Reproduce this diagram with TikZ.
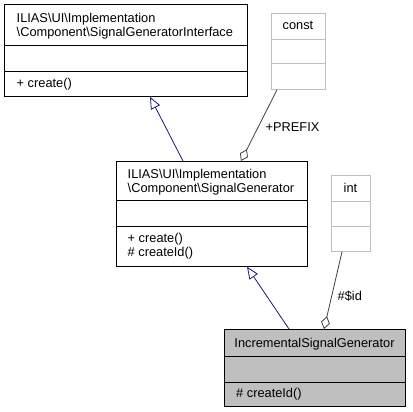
\documentclass[tikz,border=0pt]{standalone}
\usepackage{fontspec}
\setmainfont{Liberation Sans}
\usetikzlibrary{arrows.meta,calc}
\definecolor{inhcol}{HTML}{191970}
\definecolor{aggcol}{HTML}{404040}
\definecolor{lightbox}{HTML}{BFBFBF}
\definecolor{curfill}{HTML}{BFBFBF}
\begin{document}
\begin{tikzpicture}[x=1pt,y=-1pt,
  classbox/.style={draw=black,line width=0.8pt,anchor=north west,inner sep=0pt,rectangle},
  typebox/.style={draw=lightbox,line width=0.8pt,anchor=north west,inner sep=0pt,rectangle},
  txt/.style={anchor=base west,inner sep=0pt,font=\fontsize{12.8}{14}\selectfont},
  ctxt/.style={anchor=base,inner sep=0pt,font=\fontsize{12.8}{14}\selectfont},
  inh/.style={draw=inhcol,line width=0.8pt,-{Triangle[open,length=12pt,width=10pt]}},
  agg/.style={draw=aggcol,line width=0.8pt,-{Diamond[open,length=13pt,width=9pt]}},
  divider/.style={line width=0.8pt},
  lightdiv/.style={draw=lightbox,line width=0.8pt}]
\useasboundingbox (0,0) rectangle (412,412);
\fill[white] (0,0) rectangle (412,412);

% SignalGeneratorInterface
\node[classbox,minimum width=243pt,minimum height=92pt] (iface) at (4,4) {};
\draw[divider] ($(iface.north west)+(0,41)$) -- ($(iface.north east)+(0,41)$);
\draw[divider] ($(iface.north west)+(0,67)$) -- ($(iface.north east)+(0,67)$);
\node[txt] (iface-h1) at (16.5,22.5) {ILIAS\textbackslash UI\textbackslash Implementation};
\node[txt] (iface-h2) at (16.5,36.5) {\textbackslash Component\textbackslash SignalGeneratorInterface};
\node[txt] (iface-m1) at (16.5,87) {+ create()};

% const
\node[typebox,minimum width=54pt,minimum height=76pt] (const) at (271,13) {};
\draw[lightdiv] ($(const.north west)+(0,26)$) -- ($(const.north east)+(0,26)$);
\draw[lightdiv] ($(const.north west)+(0,50)$) -- ($(const.north east)+(0,50)$);
\node[ctxt] (const-h) at (298,30) {const};

% SignalGenerator
\node[classbox,minimum width=191pt,minimum height=105pt] (gen) at (116,161) {};
\draw[divider] ($(gen.north west)+(0,39)$) -- ($(gen.north east)+(0,39)$);
\draw[divider] ($(gen.north west)+(0,65)$) -- ($(gen.north east)+(0,65)$);
\node[txt] (gen-h1) at (127.5,178.5) {ILIAS\textbackslash UI\textbackslash Implementation};
\node[txt] (gen-h2) at (127.5,192.5) {\textbackslash Component\textbackslash SignalGenerator};
\node[txt] (gen-m1) at (127.5,242) {+ create()};
\node[txt] (gen-m2) at (127.5,256) {\# createId()};

% int
\node[typebox,minimum width=39pt,minimum height=76pt] (int) at (331,175) {};
\draw[lightdiv] ($(int.north west)+(0,26)$) -- ($(int.north east)+(0,26)$);
\draw[lightdiv] ($(int.north west)+(0,51)$) -- ($(int.north east)+(0,51)$);
\node[ctxt] (int-h) at (350.5,192) {int};

% IncrementalSignalGenerator
\node[classbox,fill=curfill,minimum width=181pt,minimum height=77pt] (inc) at (224,329) {};
\draw[divider] ($(inc.north west)+(0,27)$) -- ($(inc.north east)+(0,27)$);
\draw[divider] ($(inc.north west)+(0,53)$) -- ($(inc.north east)+(0,53)$);
\node[ctxt] (inc-h) at (314.5,347) {IncrementalSignalGenerator};
\node[txt] (inc-m1) at (236,397) {\# createId()};

% connectors
\draw[inh] ($(gen.north west)+(67,0)$) -- ($(iface.south west)+(146,0)$);
\draw[inh] ($(inc.north west)+(65,0)$) -- ($(gen.south west)+(131,0)$);
\draw[agg] ($(const.south west)+(6,0)$) -- ($(gen.north west)+(125,0)$);
\draw[agg] ($(int.south west)+(11,0)$) -- ($(inc.north west)+(100,0)$);
\node[txt] (prefix) at (265.5,131) {+PREFIX};
\node[txt] (idlbl) at (337.5,300) {\#\$id};
\end{tikzpicture}
\end{document}
